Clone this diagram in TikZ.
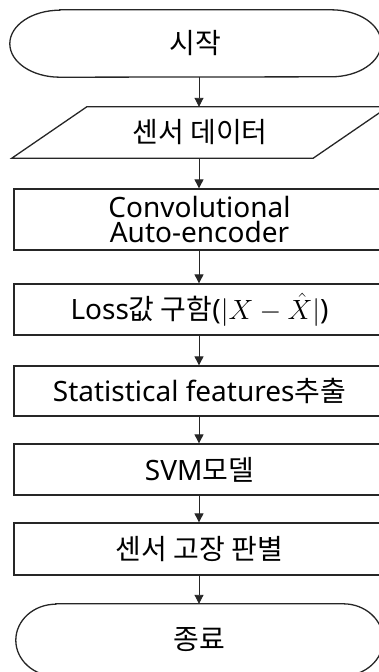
\documentclass[tikz,border=0pt]{standalone}
\usepackage{fontspec}
\setmainfont{Noto Sans}
\newfontfamily\kr{Noto Sans CJK KR}
\usetikzlibrary{arrows.meta}

\tikzset{
  label font/.style={font=\fontsize{28}{25}\selectfont, align=center},
  place/.style={draw=none, inner sep=0pt, label font},
  stepbox/.style={draw=black!85, line width=1.3pt, inner sep=0pt, minimum width=371pt, label font},
  outline/.style={draw=black!85, line width=1.3pt},
  flow/.style={-{Triangle[width=9pt,length=9pt]}, line width=0.9pt, draw=black!85, fill=black!85}
}

\begin{document}
\begin{tikzpicture}[x=1pt, y=1pt]
  \useasboundingbox (0,0) rectangle (379,-672);

  % start terminal
  \node[place, minimum width=371pt, minimum height=67pt] (start) at (195.5,-43.5) {\kr 시작};
  \draw[outline] ([xshift=50pt]start.north west) -- ([xshift=-50pt]start.north east)
    arc[start angle=90, end angle=-90, x radius=50, y radius=33.5]
    -- ([xshift=50pt]start.south west)
    arc[start angle=270, end angle=90, x radius=50, y radius=33.5] -- cycle;

  % input parallelogram
  \node[place, minimum width=376pt, minimum height=51pt] (data) at (200,-132.5) {\kr 센서 데이터};
  \draw[outline] ([xshift=75pt]data.north west) -- (data.north east)
    -- ([xshift=-75pt]data.south east) -- (data.south west) -- cycle;

  % process boxes
  \node[stepbox, minimum height=61pt] (cae) at (199.5,-219.5) {Convolutional\\Auto-encoder};
  \node[stepbox, minimum height=51pt] (loss) at (199.5,-309.5)
    {Loss{\kr 값 구함}(\scalebox{1.12}{$|X-\hat{X}|$})};
  \node[stepbox, minimum height=50pt] (feat) at (199.5,-391) {Statistical features{\kr 추출}};
  \node[stepbox, minimum height=51pt] (svm) at (199.5,-469.5) {SVM{\kr 모델}};
  \node[stepbox, minimum height=52pt] (judge) at (199.5,-549) {\kr 센서 고장 판별};

  % end terminal
  \node[place, minimum width=367pt, minimum height=72pt] (stop) at (199.5,-640) {\kr 종료};
  \draw[outline] ([xshift=40pt]stop.north west) -- ([xshift=-40pt]stop.north east)
    arc[start angle=90, end angle=-90, x radius=40, y radius=36]
    -- ([xshift=40pt]stop.south west)
    arc[start angle=270, end angle=90, x radius=40, y radius=36] -- cycle;

  % connectors
  \coordinate (axis) at (199,0);
  \draw[flow] (axis |- start.south) -- (axis |- data.north);
  \draw[flow] (axis |- data.south) -- (axis |- cae.north);
  \draw[flow] (axis |- cae.south) -- (axis |- loss.north);
  \draw[flow] (axis |- loss.south) -- (axis |- feat.north);
  \draw[flow] (axis |- feat.south) -- (axis |- svm.north);
  \draw[flow] (axis |- svm.south) -- (axis |- judge.north);
  \draw[flow] (axis |- judge.south) -- (axis |- stop.north);
\end{tikzpicture}
\end{document}
